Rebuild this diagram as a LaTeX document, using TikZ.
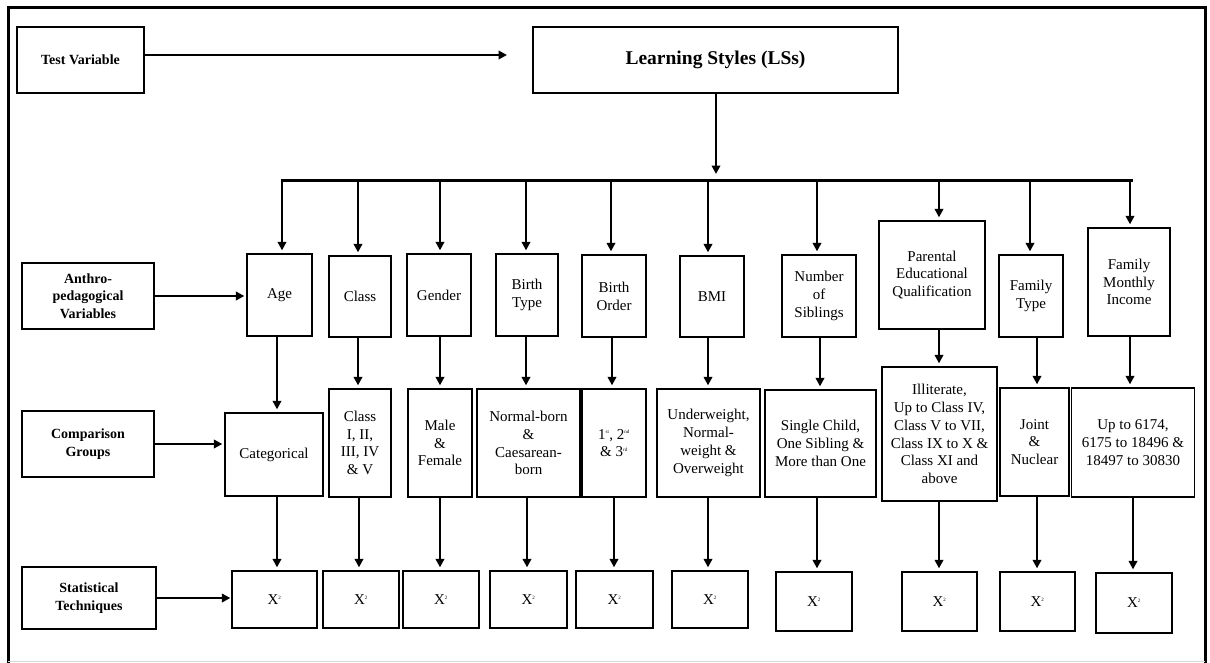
\documentclass[tikz,border=0pt]{standalone}
\usepackage{fontspec}
\setmainfont{Liberation Serif}
\usetikzlibrary{arrows.meta}

\newcommand\csq{X\textsuperscript{\tiny 2}}
\newcommand\ordsup[1]{\textsuperscript{\tiny #1}}

\begin{document}
\begin{tikzpicture}[x=1pt,y=-1pt,
  box/.style={draw, line width=1.3pt, align=center, inner sep=1pt,
    font=\fontsize{15}{17.8}\selectfont},
  lab/.style={box, font=\fontsize{14}{17.5}\selectfont\bfseries},
  arr/.style={line width=2.9pt, -{Triangle[length=8.5pt,width=8.5pt]}},
  bus/.style={line width=3pt}]
\useasboundingbox (0,0) rectangle (1210,662);

% outer frame
\draw[line width=3pt] (8,664) -- (8,7.5) -- (1205,7.5) -- (1205,664);
\draw[line width=1pt, black!15] (8,661) -- (1205,661);

% row labels
\node[lab, minimum width=127pt, minimum height=66pt] (tv) at (80.5,60) {Test Variable};
\node[lab, minimum width=132pt, minimum height=66pt] (ap) at (88,296) {Anthro-\\pedagogical\\Variables};
\node[lab, minimum width=132pt, minimum height=66pt] (cg) at (88,444) {Comparison\\Groups};
\node[lab, minimum width=134pt, minimum height=62pt] (st) at (89,598) {Statistical\\Techniques};

% test variable
\node[box, minimum width=365pt, minimum height=66pt,
  font=\fontsize{19.5}{22}\selectfont\bfseries] (ls) at (715.5,60) {Learning Styles (LSs)};

% anthro-pedagogical variables
\node[box, minimum width=65pt,  minimum height=82pt]  (age) at (279.5,295) {Age};
\node[box, minimum width=62pt,  minimum height=81pt]  (cls) at (360,296.5) {Class};
\node[box, minimum width=64pt,  minimum height=82pt]  (gen) at (439,295) {Gender};
\node[box, minimum width=62pt,  minimum height=82pt]  (bt)  at (527,295) {Birth\\Type};
\node[box, minimum width=64pt,  minimum height=82pt]  (bo)  at (614,296) {Birth\\Order};
\node[box, minimum width=64pt,  minimum height=81pt]  (bmi) at (712,296.5) {BMI};
\node[box, minimum width=74pt,  minimum height=82pt]  (ns)  at (819,296) {Number\\of\\Siblings};
\node[box, minimum width=106pt, minimum height=108pt] (pe)  at (932,275) {Parental\\Educational\\Qualification};
\node[box, minimum width=64pt,  minimum height=82pt]  (ft)  at (1031,296) {Family\\Type};
\node[box, minimum width=82pt,  minimum height=108pt] (fmi) at (1129,282) {Family\\Monthly\\Income};

% comparison groups
\node[box, minimum width=98pt,  minimum height=83pt]  (cAge) at (274,454.5) {Categorical};
\node[box, minimum width=62pt,  minimum height=108pt] (cCls) at (360,443) {Class\\I, II,\\III, IV\\\& V};
\node[box, minimum width=64pt,  minimum height=108pt] (cGen) at (440,443) {Male\\\&\\Female};
\node[box, minimum width=103pt, minimum height=108pt] (cBt)  at (528.5,443) {Normal-born\\\&\\Caesarean-\\born};
\node[box, minimum width=64pt,  minimum height=108pt] (cBo)  at (614,443) {1\ordsup{st}, 2\ordsup{nd}\\\& 3\ordsup{rd}};
\node[box, minimum width=103pt, minimum height=108pt] (cBmi) at (708.5,443) {Underweight,\\Normal-\\weight \&\\Overweight};
\node[box, minimum width=111pt, minimum height=107pt] (cNs)  at (820.5,443.5) {Single Child,\\One Sibling \&\\More than One};
\node[box, minimum width=115pt, minimum height=134pt] (cPe)  at (939.5,434) {Illiterate,\\Up to Class IV,\\Class V to VII,\\Class IX to X \&\\Class XI and\\above};
\node[box, minimum width=69pt,  minimum height=108pt] (cFt)  at (1034.5,442) {Joint\\\&\\Nuclear};
\node[box, minimum width=123pt, minimum height=109pt] (cFmi) at (1133,442.5) {Up to 6174,\\6175 to 18496 \&\\18497 to 30830};

% statistical techniques
\node[box, minimum width=85pt, minimum height=57pt] (xAge) at (274.5,599.5) {\csq};
\node[box, minimum width=76pt, minimum height=57pt] (xCls) at (361,599.5) {\csq};
\node[box, minimum width=76pt, minimum height=57pt] (xGen) at (441,599.5) {\csq};
\node[box, minimum width=77pt, minimum height=57pt] (xBt)  at (528.5,599.5) {\csq};
\node[box, minimum width=77pt, minimum height=57pt] (xBo)  at (614.5,599.5) {\csq};
\node[box, minimum width=76pt, minimum height=57pt] (xBmi) at (710,599.5) {\csq};
\node[box, minimum width=76pt, minimum height=59pt] (xNs)  at (814,601.5) {\csq};
\node[box, minimum width=75pt, minimum height=59pt] (xPe)  at (939.5,601.5) {\csq};
\node[box, minimum width=75pt, minimum height=59pt] (xFt)  at (1037.5,601.5) {\csq};
\node[box, minimum width=76pt, minimum height=60pt] (xFmi) at (1134,603) {\csq};

% horizontal connectors
\coordinate (tvEnd) at (507,55);
\draw[arr] (tv.east |- tvEnd) -- (tvEnd);
\draw[arr] (ap.east) -- ([xshift=-2pt]age.west |- ap.east);
\draw[arr] (cg.east) -- ([xshift=-2pt]cAge.west |- cg.east);
\draw[arr] (st.east) -- ([xshift=-1pt]xAge.west |- st.east);

% distribution bus
\coordinate (busL) at (282,180);
\coordinate (busR) at (1131,180);
\draw[bus] ([xshift=-1.5pt]busL) -- ([xshift=1.5pt]busR);
\draw[arr] (ls.south -| 716,0) -- ([yshift=6pt]busL -| 716,0);

\foreach \n/\x [count=\i] in {age/282, cls/358, gen/440, bt/526, bo/611,
    bmi/708, ns/817, pe/939, ft/1030, fmi/1130} {
  \coordinate (t\i) at (\x,180);
  \draw[arr] (t\i) -- ([yshift=3pt]\n.north -| t\i);
}

\foreach \a/\b/\x [count=\i] in {age/cAge/277, cls/cCls/358, gen/cGen/440,
    bt/cBt/526, bo/cBo/612, bmi/cBmi/708, ns/cNs/820, pe/cPe/939,
    ft/cFt/1037, fmi/cFmi/1130} {
  \coordinate (m\i) at (\x,0);
  \draw[arr] (\a.south -| m\i) -- ([yshift=3pt]\b.north -| m\i);
}

\foreach \a/\b/\x [count=\i] in {cAge/xAge/277, cCls/xCls/359, cGen/xGen/440,
    cBt/xBt/527, cBo/xBo/614, cBmi/xBmi/708, cNs/xNs/817, cPe/xPe/939,
    cFt/xFt/1037, cFmi/xFmi/1133} {
  \coordinate (b\i) at (\x,0);
  \draw[arr] (\a.south -| b\i) -- ([yshift=3pt]\b.north -| b\i);
}
\end{tikzpicture}
\end{document}
